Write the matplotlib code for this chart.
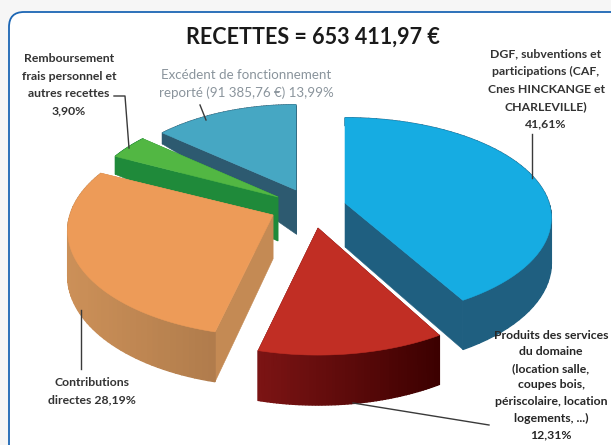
import numpy as np
import matplotlib
matplotlib.use("Agg")
import matplotlib.pyplot as plt
from matplotlib.patches import FancyBboxPatch

TITLE = "RECETTES = 653 411,97 €"
# Slices in the reference's clockwise order, beginning at 12 o'clock
names = ["DGF", "Produits", "Contributions", "Remboursement", "Excedent"]
shares = [41.61, 12.31, 28.19, 3.90, 13.99]
labels = [
    "DGF, subventions et\nparticipations (CAF,\nCnes HINCKANGE et\nCHARLEVILLE)\n41,61%",
    "Produits des services\ndu domaine\n(location salle,\ncoupes bois,\npériscolaire, location\nlogements, ...)\n12,31%",
    "Contributions\ndirectes 28,19%",
    "Remboursement\nfrais personnel et\nautres recettes\n3,90%",
    "Excédent de fonctionnement\nreporté (91 385,76 €) 13,99%",
]
top_colors = ["#16ace2", "#c12e24", "#ed9b58", "#52b743", "#46a7c3"]
side_left = ["#1f5f80", "#7c1414", "#cc9058", "#1f8a3a", "#2d5a70"]
side_right = ["#1f5f80", "#3c0000", "#b07c4c", "#1f8a3a", "#2d5a70"]
face_colors = ["#1f5f80", "#5a0808", "#c48a54", "#1f8a3a", "#2d5a70"]
apex_x = [345, 318, 273, 278, 296]
apex_y = [203, 228, 215, 197, 190]
radius_x = [204, 210, 203, 192, 190]
radius_y = [98, 108, 103, 100, 98]
paint_order = [4, 3, 0, 2, 1]

PERSPECTIVE = 0.15
depth_v = [-1.0, 0.0, 0.43, 0.64, 1.0]
depth_px = [50, 44, 18, 11, 8]


def project(i, u, v, t=1.0):
    w = 1 + PERSPECTIVE * v * t
    x = apex_x[i] + radius_x[i] * t * u / w
    y = apex_y[i] - radius_y[i] * t * v / w
    return x, y, np.interp(v * t, depth_v, depth_px)


def hexrgb(c):
    return np.array(matplotlib.colors.to_rgb(c))


fig = plt.figure(figsize=(6.11, 4.45), dpi=100, facecolor="#f6f6f6")
ax = fig.add_axes([0, 0, 1, 1])
ax.set_xlim(0, 611)
ax.set_ylim(445, 0)
ax.axis("off")

ax.add_patch(FancyBboxPatch((9, 12), 640, 470,
                            boxstyle="round,pad=0,rounding_size=15",
                            fc="white", ec="#1c66b4", lw=1.3, zorder=1))

edges = np.cumsum([0] + shares) / 100 * 360
z = 2
for i in paint_order:
    a0 = np.deg2rad(90 - edges[i])
    a1 = np.deg2rad(90 - edges[i + 1])
    th = np.linspace(a0, a1, 60)
    u, v = np.cos(th), np.sin(th)
    x, y, d = project(i, u, v)
    # radial faces
    for a in (a0, a1):
        t = np.linspace(0, 1, 30)
        fx, fy, fd = project(i, np.cos(a), np.sin(a), t)
        ax.fill(np.r_[fx, fx[::-1]], np.r_[fy, (fy + fd)[::-1]],
                facecolor=face_colors[i], edgecolor=face_colors[i], lw=0.4, zorder=z)
        z += 1
    # outer rim, drawn as short vertical facets
    cl, cr = hexrgb(side_left[i]), hexrgb(side_right[i])
    xmin, xmax = x.min(), x.max()
    for k in range(len(x) - 1):
        f = ((x[k] + x[k + 1]) / 2 - xmin) / max(xmax - xmin, 1)
        c = cl * (1 - f) + cr * f
        ax.fill([x[k], x[k + 1], x[k + 1], x[k]],
                [y[k], y[k + 1], y[k + 1] + d[k + 1], y[k] + d[k]],
                facecolor=c, edgecolor=c, lw=1.0, zorder=z)
    z += 1
    # top surface
    ax.fill(np.r_[apex_x[i], x], np.r_[apex_y[i], y],
            facecolor=top_colors[i], edgecolor=top_colors[i], lw=0.4, zorder=z)
    z += 1

FONT = "Lato"
TC = "#333333"
ax.text(313, 37, TITLE, ha="center", va="center", fontsize=15.5,
        fontweight="bold", family=FONT, color="#1a1a1a", zorder=50)
label_pos = [(546, 89), (551, 385), (92, 391), (69, 85), (246, 84)]
label_col = [TC, "#262626", TC, TC, "#8a949c"]
label_size = [8.8, 8.8, 8.8, 8.8, 9.6]
label_space = [1.72, 1.62, 1.72, 1.72, 1.5]
label_weight = ["bold", "bold", "bold", "bold", "normal"]
for i, (lx, ly) in enumerate(label_pos):
    ax.text(lx, ly, labels[i], ha="center", va="center", fontsize=label_size[i],
            family=FONT, color=label_col[i], linespacing=label_space[i],
            fontweight=label_weight[i], zorder=50, clip_on=False)

leaders = [
    ([532, 532], [134, 178]),
    ([353, 489], [403, 425]),
    ([81, 81], [310, 369]),
    ([114, 125, 129], [96, 96, 148]),
    ([200, 206], [105, 120]),
]
for lxs, lys in leaders:
    ax.plot(lxs, lys, color="#3a3a3a", lw=1.0, zorder=40)

fig.savefig("out.png", dpi=100, facecolor=fig.get_facecolor())
